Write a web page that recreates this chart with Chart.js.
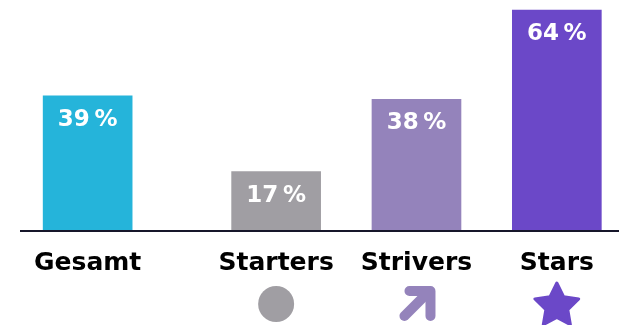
<!DOCTYPE html>
<html>
<head>
<meta charset="utf-8">
<script src="https://cdn.jsdelivr.net/npm/chart.js@4/dist/chart.umd.min.js"></script>
<style>
  html, body { margin: 0; padding: 0; background: #fff; }
  #wrap { width: 619px; height: 325px; position: relative; }
</style>
</head>
<body>
<div id="wrap"><canvas id="chart"></canvas></div>
<script>
// ── DATA ─────────────────────────────────────────────────────
const categories = ["Gesamt", "Starters", "Strivers", "Stars"];
const positions  = [0, 1.343, 2.343, 3.343];   // Gesamt steht etwas abgesetzt
const values     = [39, 17, 38, 64];
const icons      = [null, "circle", "arrow", "star"];
const colors     = ["#25b4da", "#a09ea3", "#9483bb", "#6b48c8"];

const FONT = "'DejaVu Sans', sans-serif";

// ── PLUGIN: Achse, Werte, Kategorien, Icons ──────────────────
const decor = {
  id: "decor",
  afterDatasetsDraw(chart) {
    const { ctx, chartArea } = chart;
    const meta = chart.getDatasetMeta(0);

    // baseline
    ctx.save();
    ctx.fillStyle = "#16162a";
    ctx.fillRect(chartArea.left, chartArea.bottom, chartArea.right - chartArea.left, 2);

    ctx.textAlign = "center";
    ctx.textBaseline = "middle";
    meta.data.forEach((bar, i) => {
      const x = bar.x;
      // Wert im Balken
      ctx.fillStyle = "#ffffff";
      ctx.font = "bold 23px " + FONT;
      ctx.fillText(values[i] + "\u202F%", x, bar.y + 24);
      // Kategorie
      ctx.fillStyle = "#000000";
      ctx.font = "bold 25px " + FONT;
      ctx.fillText(categories[i], x, chartArea.bottom + 33);
      drawIcon(ctx, icons[i], x, chartArea.bottom, colors[i]);
    });
    ctx.restore();
  },
};

function drawIcon(ctx, kind, x, base, color) {
  if (!kind) return;
  ctx.save();
  ctx.fillStyle = color;
  ctx.strokeStyle = color;
  if (kind === "circle") {
    ctx.beginPath();
    ctx.arc(x, base + 74, 18, 0, Math.PI * 2);
    ctx.fill();
  } else if (kind === "arrow") {
    ctx.lineWidth = 10;
    ctx.lineCap = "round";
    ctx.lineJoin = "round";
    ctx.beginPath();
    ctx.moveTo(x - 12, base + 86);
    ctx.lineTo(x + 10, base + 64);
    ctx.stroke();
    ctx.beginPath();
    ctx.moveTo(x - 7, base + 61);
    ctx.lineTo(x + 14, base + 61);
    ctx.lineTo(x + 14, base + 86);
    ctx.stroke();
  } else if (kind === "star") {
    const cy = base + 76, R = 25, r = 11.5;
    ctx.lineWidth = 3;
    ctx.lineJoin = "round";
    ctx.beginPath();
    for (let k = 0; k < 10; k++) {
      const rad = k % 2 === 0 ? R - 2 : r;
      const a = -Math.PI / 2 + k * Math.PI / 5;
      const px = x + rad * Math.cos(a), py = cy + rad * Math.sin(a);
      k === 0 ? ctx.moveTo(px, py) : ctx.lineTo(px, py);
    }
    ctx.closePath();
    ctx.fill();
    ctx.stroke();
  }
  ctx.restore();
}

// ── CHART ────────────────────────────────────────────────────
new Chart(document.getElementById("chart"), {
  type: "bar",
  data: {
    datasets: [{
      data: positions.map((p, i) => ({ x: p, y: values[i] })),
      backgroundColor: colors,
      borderWidth: 0,
      barThickness: 89,
    }],
  },
  options: {
    responsive: true,
    maintainAspectRatio: false,
    animation: false,
    layout: { padding: { left: 20, right: 0, top: 0, bottom: 95 } },
    plugins: { legend: { display: false }, tooltip: { enabled: false } },
    scales: {
      x: { type: "linear", min: -0.482, max: 3.786, offset: false, display: false },
      y: { min: 0, max: 66.9, display: false },
    },
  },
  plugins: [decor],
});
</script>
</body>
</html>
